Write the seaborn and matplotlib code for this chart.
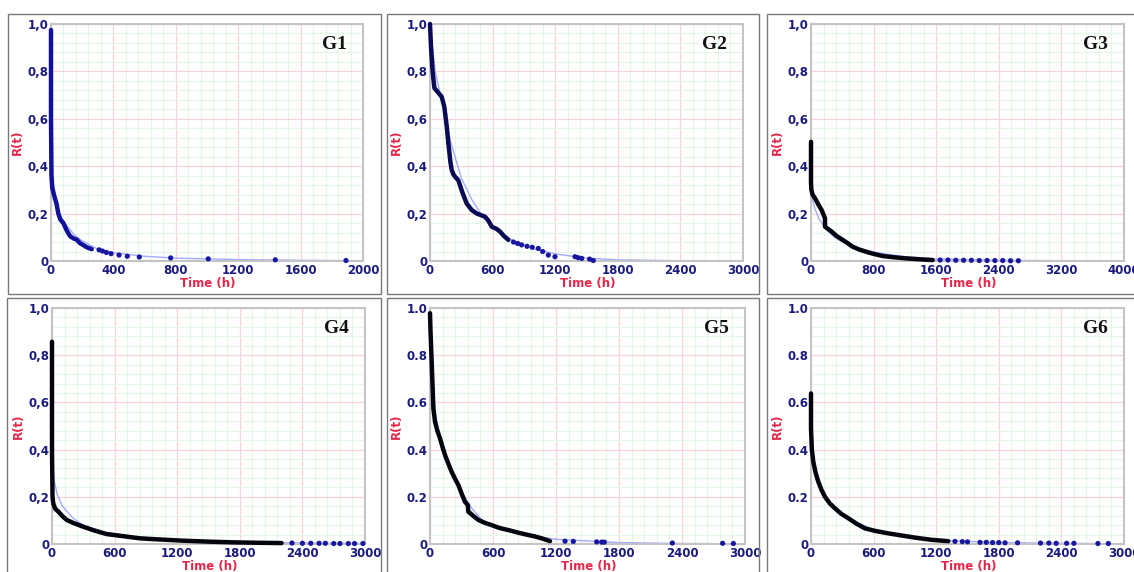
import matplotlib
matplotlib.use("Agg")
import matplotlib.pyplot as plt
import seaborn as sns
from matplotlib.patches import Rectangle
from matplotlib.ticker import MultipleLocator, FuncFormatter

# --- data (t in hours, R(t) reliability) ---
panels = ["G1", "G2", "G3", "G4", "G5", "G6"]
x_max = [2000, 3000, 4000, 3000, 3000, 3000]
x_step = [400, 600, 800, 600, 600, 600]
decimal_sep = [",", ",", ",", ",", ".", "."]

# dense empirical part (drawn as thick line)
g1_t = [0, 0, 3, 8, 15, 25, 36, 47, 60, 79, 100, 122, 145, 165, 186, 205, 229, 261]
g1_r = [0.975, 0.6, 0.36, 0.31, 0.29, 0.265, 0.24, 0.2, 0.175, 0.16, 0.13, 0.105, 0.095, 0.09, 0.075, 0.068, 0.058, 0.05]
g2_t = [0, 10, 25, 42, 70, 112, 137, 160, 176, 195, 208, 225, 240, 272, 310, 351, 400, 450, 527, 560, 591, 640, 671, 710, 751]
g2_r = [1.0, 0.9, 0.8, 0.73, 0.715, 0.693, 0.651, 0.57, 0.497, 0.42, 0.384, 0.365, 0.356, 0.34, 0.29, 0.243, 0.215, 0.2, 0.187, 0.17, 0.145, 0.135, 0.124, 0.105, 0.089]
g3_t = [0, 0, 5, 20, 51, 100, 136, 179, 179, 220, 264, 330, 405, 470, 533, 620, 703, 800, 916, 1050, 1214, 1400, 1555]
g3_r = [0.503, 0.33, 0.3, 0.28, 0.265, 0.235, 0.215, 0.18, 0.145, 0.135, 0.124, 0.105, 0.089, 0.075, 0.06, 0.048, 0.039, 0.03, 0.021, 0.016, 0.011, 0.007, 0.004]
g4_t = [0, 0, 5, 12, 30, 61, 100, 141, 200, 300, 400, 524, 650, 843, 1000, 1258, 1500, 1738, 2000, 2200]
g4_r = [0.857, 0.4, 0.2, 0.172, 0.15, 0.137, 0.118, 0.102, 0.09, 0.073, 0.058, 0.042, 0.035, 0.024, 0.02, 0.014, 0.01, 0.007, 0.005, 0.004]
g5_t = [0, 5, 16, 32, 48, 70, 95, 120, 143, 175, 206, 240, 270, 300, 333, 360, 365, 410, 460, 520, 587, 660, 746, 840, 936, 1000, 1063, 1143]
g5_r = [0.978, 0.9, 0.773, 0.575, 0.518, 0.48, 0.448, 0.41, 0.377, 0.34, 0.306, 0.275, 0.25, 0.215, 0.179, 0.165, 0.137, 0.12, 0.102, 0.09, 0.08, 0.068, 0.059, 0.048, 0.038, 0.032, 0.024, 0.012]
g6_t = [0, 0, 8, 22, 45, 70, 100, 134, 180, 230, 290, 358, 440, 518, 620, 741, 870, 997, 1150, 1316]
g6_r = [0.638, 0.49, 0.4, 0.349, 0.3, 0.264, 0.23, 0.2, 0.172, 0.151, 0.128, 0.109, 0.085, 0.066, 0.055, 0.045, 0.036, 0.027, 0.018, 0.012]

# sparse tail points
g1_pt = [308, 330, 355, 385, 436, 489, 566, 767, 1008, 1438, 1891]
g1_pr = [0.047, 0.042, 0.036, 0.031, 0.025, 0.02, 0.017, 0.013, 0.009, 0.005, 0.002]
g2_pt = [800, 840, 878, 930, 980, 1038, 1080, 1134, 1198, 1390, 1420, 1454, 1530, 1565]
g2_pr = [0.08, 0.074, 0.068, 0.062, 0.058, 0.053, 0.04, 0.025, 0.018, 0.018, 0.014, 0.011, 0.008, 0.002]
g3_pt = [1650, 1750, 1850, 1950, 2050, 2150, 2250, 2350, 2450, 2550, 2650]
g3_pr = [0.004, 0.004, 0.003, 0.003, 0.003, 0.002, 0.002, 0.002, 0.002, 0.001, 0.001]
g4_pt = [2300, 2400, 2480, 2560, 2620, 2700, 2760, 2840, 2900, 2980]
g4_pr = [0.004, 0.003, 0.003, 0.003, 0.003, 0.002, 0.002, 0.002, 0.002, 0.002]
g5_pt = [1286, 1365, 1587, 1635, 1660, 2308, 2787, 2889]
g5_pr = [0.012, 0.011, 0.009, 0.008, 0.008, 0.004, 0.003, 0.002]
g6_pt = [1380, 1450, 1500, 1620, 1680, 1740, 1800, 1860, 1980, 2200, 2280, 2350, 2450, 2520, 2750, 2850]
g6_pr = [0.011, 0.01, 0.009, 0.007, 0.007, 0.006, 0.006, 0.005, 0.005, 0.004, 0.004, 0.003, 0.003, 0.003, 0.002, 0.002]

# fitted model curve (thin light blue)
g1_ft = [0, 1, 10, 30, 60, 100, 150, 200, 300, 400, 600, 800, 1200, 1600, 2000]
g1_fr = [0.97, 0.6, 0.35, 0.25, 0.19, 0.15, 0.11, 0.085, 0.05, 0.035, 0.02, 0.012, 0.006, 0.003, 0.001]
g2_ft = [0, 50, 100, 150, 200, 300, 400, 500, 600, 800, 1000, 1200, 1500, 1800, 2400, 3000]
g2_fr = [1.0, 0.8, 0.7, 0.6, 0.5, 0.35, 0.26, 0.19, 0.145, 0.085, 0.05, 0.03, 0.012, 0.005, 0.001, 0.0]
g3_ft = [0, 20, 50, 100, 200, 300, 400, 600, 800, 1200, 1600, 2400, 3300]
g3_fr = [0.32, 0.26, 0.22, 0.18, 0.13, 0.1, 0.08, 0.055, 0.038, 0.018, 0.009, 0.003, 0.001]
g4_ft = [0, 5, 20, 50, 100, 200, 300, 500, 800, 1200, 1800, 2400, 3000]
g4_fr = [0.5, 0.35, 0.27, 0.21, 0.16, 0.11, 0.08, 0.05, 0.03, 0.018, 0.008, 0.004, 0.002]
g5_ft = [0, 20, 50, 100, 200, 300, 400, 500, 700, 900, 1200, 1800, 2400, 3000]
g5_fr = [0.98, 0.75, 0.55, 0.44, 0.31, 0.22, 0.15, 0.1, 0.06, 0.04, 0.02, 0.006, 0.002, 0.001]
g6_ft = [0, 20, 70, 150, 250, 400, 600, 800, 1000, 1300, 1800, 2400, 3000]
g6_fr = [0.62, 0.36, 0.26, 0.19, 0.145, 0.1, 0.06, 0.04, 0.028, 0.015, 0.006, 0.003, 0.001]

dense = [(g1_t, g1_r), (g2_t, g2_r), (g3_t, g3_r), (g4_t, g4_r), (g5_t, g5_r), (g6_t, g6_r)]
tails = [(g1_pt, g1_pr), (g2_pt, g2_pr), (g3_pt, g3_pr), (g4_pt, g4_pr), (g5_pt, g5_pr), (g6_pt, g6_pr)]
fits = [(g1_ft, g1_fr), (g2_ft, g2_fr), (g3_ft, g3_fr), (g4_ft, g4_fr), (g5_ft, g5_fr), (g6_ft, g6_fr)]
line_colors = ["#10109a", "#0a0a55", "#050510", "#050510", "#050510", "#050510"]

# --- layout in pixels (left, right, top, bottom) ---
W, H = 1134, 572
axes_px = [(51, 363, 24, 261), (430, 743, 24, 261), (811, 1124, 24, 261),
           (52, 365, 308, 544), (430, 745, 308, 544), (811, 1124, 308, 544)]
boxes_px = [(8, 381, 14, 294), (387, 759, 14, 294), (767, 1140, 14, 294),
            (7, 381, 298, 580), (387, 759, 298, 580), (767, 1140, 298, 580)]

sns.set_style("white")
plt.rcParams["font.family"] = ["DejaVu Sans"]

navy = "#1b1b7e"
crimson = "#e3264a"

fig = plt.figure(figsize=(W / 100, H / 100), dpi=100)

for l, r, t, b in boxes_px:
    fig.patches.append(Rectangle((l / W, 1 - b / H), (r - l) / W, (b - t) / H,
                                 transform=fig.transFigure, fill=False,
                                 edgecolor="#7a7a7a", linewidth=1.0))

for i, name in enumerate(panels):
    l, r, t, b = axes_px[i]
    ax = fig.add_axes([l / W, 1 - b / H, (r - l) / W, (b - t) / H])
    ax.set_facecolor("white")

    ax.set_xlim(0, x_max[i])
    ax.set_ylim(0, 1)
    ax.xaxis.set_major_locator(MultipleLocator(x_step[i]))
    ax.xaxis.set_minor_locator(MultipleLocator(x_step[i] / 5))
    ax.yaxis.set_major_locator(MultipleLocator(0.2))
    ax.yaxis.set_minor_locator(MultipleLocator(0.04))
    ax.grid(which="minor", color="#e4f7e4", linewidth=0.8)
    ax.grid(which="major", color="#f8d4da", linewidth=0.9)
    ax.set_axisbelow(True)

    sep = decimal_sep[i]
    ax.yaxis.set_major_formatter(FuncFormatter(
        lambda v, p, s=sep: "0" if abs(v) < 1e-9 else f"{v:.1f}".replace(".", s)))
    ax.xaxis.set_major_formatter(FuncFormatter(lambda v, p: f"{int(round(v))}"))
    ax.tick_params(which="both", length=0, pad=2, labelsize=8.5, labelcolor=navy)
    for lab in ax.get_xticklabels() + ax.get_yticklabels():
        lab.set_fontweight("bold")

    for sp in ax.spines.values():
        sp.set_color("#c4c4c4")
        sp.set_linewidth(1.5)

    ft, fr = fits[i]
    sns.lineplot(x=ft, y=fr, ax=ax, color="#a4abff", linewidth=1.0,
                 estimator=None, sort=False)

    pt, pr = tails[i]
    sns.scatterplot(x=pt, y=pr, ax=ax, color="#1717a0", s=14, edgecolor="none",
                    zorder=4, clip_on=False)

    dt, dr = dense[i]
    sns.lineplot(x=dt, y=dr, ax=ax, color=line_colors[i], linewidth=3.2,
                 estimator=None, sort=False, zorder=5)
    for ln in ax.lines:
        ln.set_clip_on(False)

    ax.set_xlabel("Time (h)", color=crimson, fontweight="bold", fontsize=8.5)
    ax.set_ylabel("R(t)", color=crimson, fontweight="bold", fontsize=8.5)
    ax.xaxis.set_label_coords(0.503, -0.068)
    ax.yaxis.set_label_coords(-0.087, 0.5)

    ax.text(0.91, 0.915, name, transform=ax.transAxes, ha="center", va="center",
            fontsize=14, fontweight="bold", family="Liberation Serif", color="#111111")

fig.savefig("out.png", dpi=100)
